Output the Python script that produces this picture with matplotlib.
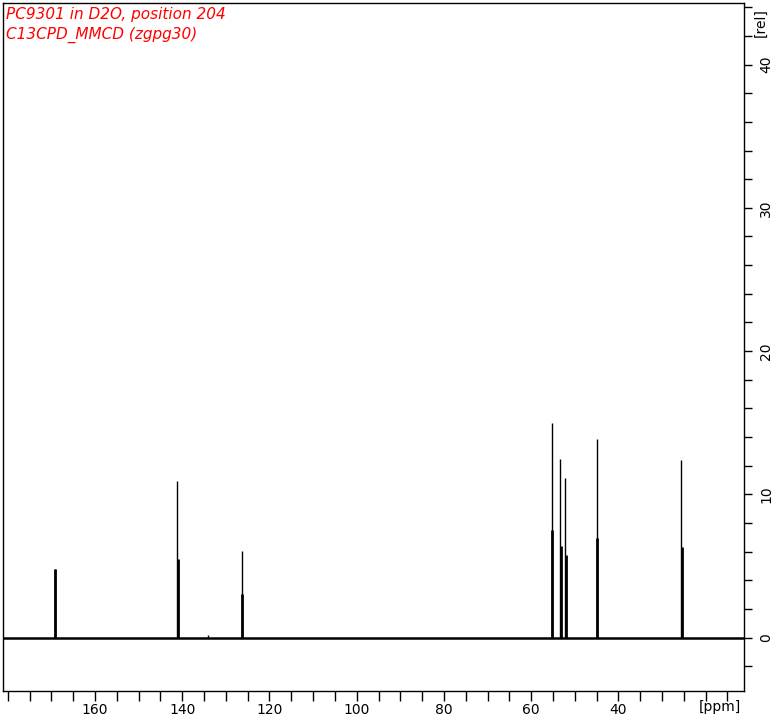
import matplotlib
matplotlib.use("Agg")
import matplotlib.pyplot as plt
from matplotlib.ticker import MultipleLocator, FixedLocator, FixedFormatter

# ---- data ----
peak_ppm = [169.2, 141.1, 134.0, 126.4, 55.3, 53.3, 52.15, 45.0, 25.55]
peak_height = [4.78, 10.92, 0.2, 6.04, 15.0, 12.46, 11.13, 13.85, 12.39]
shoulder_height = [4.78, 5.48, 0.0, 3.04, 7.5, 6.4, 5.75, 6.96, 6.3]

x_major = [160, 140, 120, 100, 80, 60, 40, 20]
x_labels = ["160", "140", "120", "100", "80", "60", "40", ""]
x_unit = "[ppm]"
y_major = [0, 10, 20, 30, 40]
y_labels = ["0", "10", "20", "30", "40"]
y_unit = "[rel]"

title_lines = ["PC9301 in D2O, position 204", "C13CPD_MMCD (zgpg30)"]

W, H = 775, 720
fig = plt.figure(figsize=(W / 100, H / 100), dpi=100)
ax = fig.add_axes([3 / W, 1 - 691 / H, 741 / W, 688 / H])

xmin, xmax = 181.1, 11.2
ax.set_xlim(xmin, xmax)
ax.set_ylim(-3.73, 44.3)

# baseline
ax.plot([xmin, xmax], [0, 0], color="black", lw=1.8, solid_capstyle="butt")
# peaks
ax.vlines(peak_ppm, 0, peak_height, color="black", lw=1.0)
ax.vlines([p - 0.12 for p in peak_ppm], 0, shoulder_height, color="black", lw=2.0)

# x axis
ax.xaxis.set_major_locator(FixedLocator(x_major))
ax.xaxis.set_major_formatter(FixedFormatter(x_labels))
ax.xaxis.set_minor_locator(MultipleLocator(5))
ax.tick_params(axis="x", which="both", direction="out", length=7, width=1,
               labelsize=10, pad=2, top=False)
ax.text(720 / W, 1 - 707 / H, x_unit, transform=fig.transFigure,
        ha="center", va="center", fontsize=10)

# y axis on right
ax.yaxis.tick_right()
ax.yaxis.set_major_locator(FixedLocator(y_major))
ax.yaxis.set_major_formatter(FixedFormatter(y_labels))
ax.yaxis.set_minor_locator(MultipleLocator(2))
ax.tick_params(axis="y", which="both", direction="out", length=6, width=1,
               labelsize=10, pad=5, left=False, right=True)
for lab in ax.get_yticklabels():
    lab.set_rotation(90)
    lab.set_va("center")
    lab.set_ha("left")

for s in ax.spines.values():
    s.set_linewidth(1.0)

ax.text(761 / W, 1 - 23 / H, y_unit, transform=fig.transFigure, rotation=90,
        ha="center", va="center", fontsize=10)

ax.text(6 / W, 1 - 15 / H, title_lines[0], transform=fig.transFigure,
        ha="left", va="center", color="#ff0000", fontsize=11, style="italic")
ax.text(6 / W, 1 - 35 / H, title_lines[1], transform=fig.transFigure,
        ha="left", va="center", color="#ff0000", fontsize=11, style="italic")

fig.savefig("out.png", dpi=100)
